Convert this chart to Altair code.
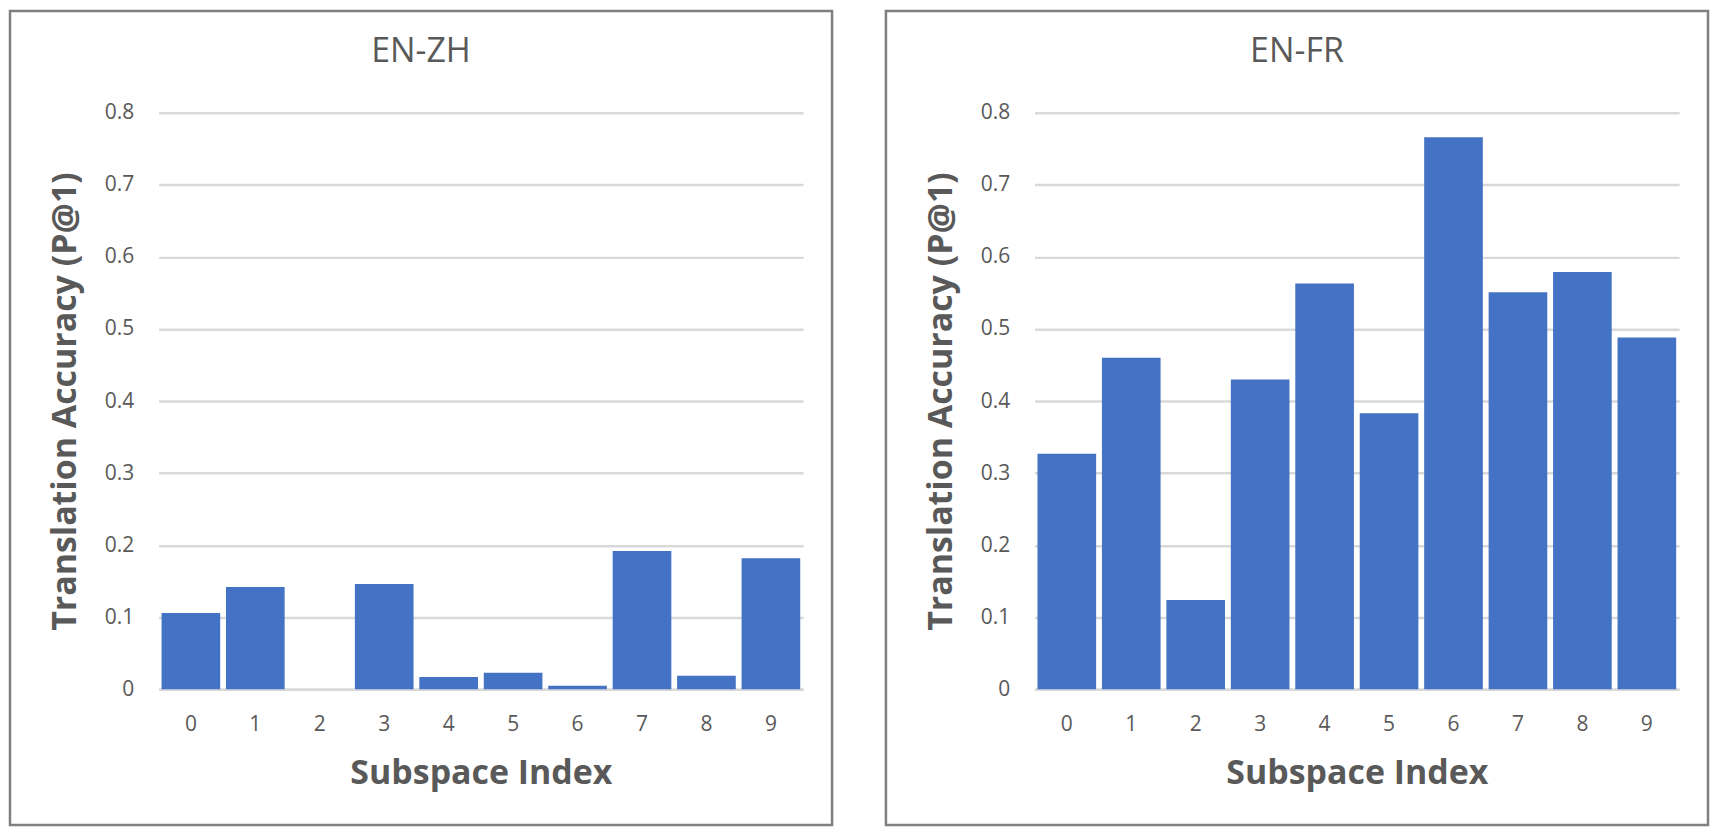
import altair as alt
import pandas as pd

indices = ["0", "1", "2", "3", "4", "5", "6", "7", "8", "9"]
en_zh = [0.106, 0.142, 0.0, 0.146, 0.017, 0.023, 0.005, 0.192, 0.019, 0.182]
en_fr = [0.327, 0.460, 0.124, 0.430, 0.563, 0.383, 0.766, 0.551, 0.579, 0.488]
y_ticks = [0, 0.1, 0.2, 0.3, 0.4, 0.5, 0.6, 0.7, 0.8]
titles = ["EN-ZH", "EN-FR"]

W, H = 646, 578
L, R, T, B = 150, 30, 103, 137
FONT = "Open Sans"
GREY = "#595959"


def panel(title, values):
    df = pd.DataFrame({"idx": indices, "acc": values})
    bars = alt.Chart(df).mark_bar(color="#4472c4").encode(
        x=alt.X(
            "idx:O",
            sort=indices,
            scale=alt.Scale(paddingInner=0.09, paddingOuter=0.045),
            axis=alt.Axis(
                title="Subspace Index",
                labelAngle=0,
                labelFont=FONT,
                labelFontSize=21,
                labelColor=GREY,
                labelPadding=24,
                ticks=False,
                domainColor="#d9d9d9",
                domainWidth=2.5,
                titleFont=FONT,
                titleFontSize=34,
                titleFontWeight="bold",
                titleColor=GREY,
                titlePadding=22,
            ),
        ),
        y=alt.Y(
            "acc:Q",
            scale=alt.Scale(domain=[0, 0.8], nice=False),
            axis=alt.Axis(
                title="Translation Accuracy (P@1)",
                values=y_ticks,
                labelExpr="datum.value == 0 ? '0' : format(datum.value, '.1f')",
                labelFont=FONT,
                labelFontSize=21,
                labelColor=GREY,
                labelPadding=25,
                ticks=False,
                domain=False,
                gridColor="#d9d9d9",
                gridWidth=2.5,
                titleFont=FONT,
                titleFontSize=34,
                titleFontWeight="bold",
                titleColor=GREY,
                titlePadding=22,
            ),
        ),
    )
    one = pd.DataFrame({"t": [title]})
    frame = alt.Chart(one).mark_rect(
        fill="transparent", stroke="#7f7f7f", strokeWidth=2.5
    ).encode(
        x=alt.value(-L + 1),
        x2=alt.value(W + R - 1),
        y=alt.value(-T + 1),
        y2=alt.value(H + B - 1),
    )
    head = alt.Chart(one).mark_text(
        font=FONT, fontSize=34, color=GREY, baseline="middle", align="center"
    ).encode(
        x=alt.value((W + R - L) / 2),
        y=alt.value(-61),
        text="t:N",
    )
    return alt.layer(frame, bars, head).properties(width=W, height=H)


chart = alt.hconcat(
    panel(titles[0], en_zh),
    panel(titles[1], en_fr),
    spacing=50,
).properties(padding=0).configure_view(stroke="transparent")

chart.save("out.html", embed_options={"renderer": "svg", "actions": False})
